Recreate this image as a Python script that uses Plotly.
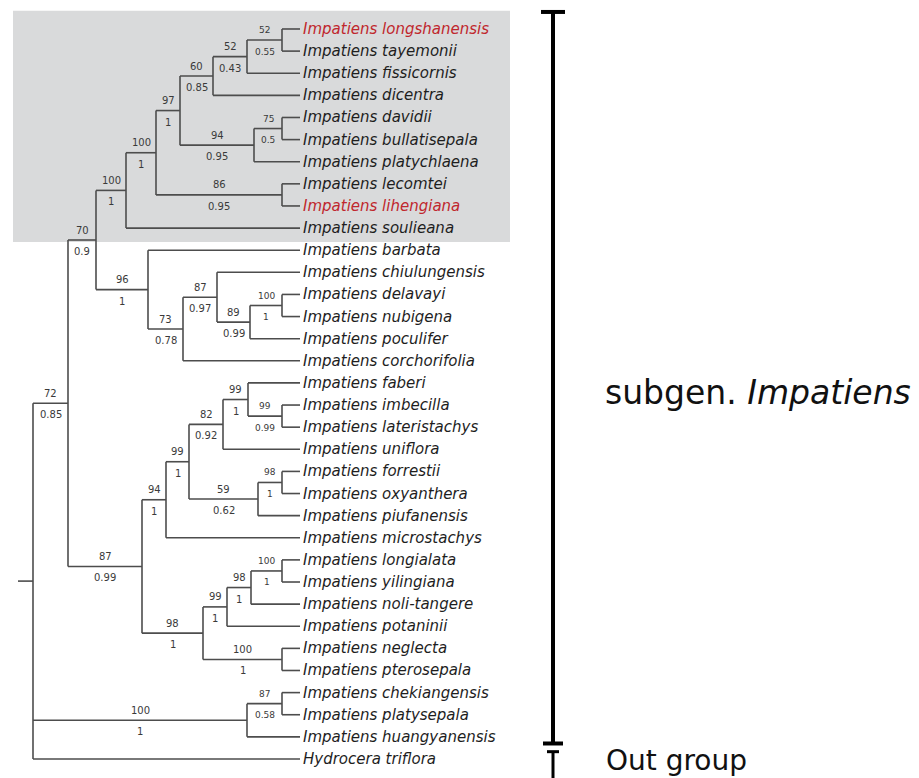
import plotly.graph_objects as go

# ---------------- data ----------------
tips = [
    "Impatiens longshanensis", "Impatiens tayemonii", "Impatiens fissicornis",
    "Impatiens dicentra", "Impatiens davidii", "Impatiens bullatisepala",
    "Impatiens platychlaena", "Impatiens lecomtei", "Impatiens lihengiana",
    "Impatiens soulieana", "Impatiens barbata", "Impatiens chiulungensis",
    "Impatiens delavayi", "Impatiens nubigena", "Impatiens poculifer",
    "Impatiens corchorifolia", "Impatiens faberi", "Impatiens imbecilla",
    "Impatiens lateristachys", "Impatiens uniflora", "Impatiens forrestii",
    "Impatiens oxyanthera", "Impatiens piufanensis", "Impatiens microstachys",
    "Impatiens longialata", "Impatiens yilingiana", "Impatiens noli-tangere",
    "Impatiens potaninii", "Impatiens neglecta", "Impatiens pterosepala",
    "Impatiens chekiangensis", "Impatiens platysepala", "Impatiens huangyanensis",
    "Hydrocera triflora",
]
red_tips = ["Impatiens longshanensis", "Impatiens lihengiana"]
highlight_tips = ["Impatiens longshanensis", "Impatiens soulieana"]

# internal nodes: name, children, depth (horizontal position), bootstrap, posterior
node_names = ["lt", "ltf", "ltfd", "db", "dbp", "A", "ll", "B", "C",
              "I", "H", "G", "F", "E", "D",
              "il", "fil", "L", "O", "N", "M", "P",
              "U", "T", "R", "S", "Q", "K", "J",
              "W", "V", "root"]
node_children = [
    ["Impatiens longshanensis", "Impatiens tayemonii"],
    ["lt", "Impatiens fissicornis"],
    ["ltf", "Impatiens dicentra"],
    ["Impatiens davidii", "Impatiens bullatisepala"],
    ["db", "Impatiens platychlaena"],
    ["ltfd", "dbp"],
    ["Impatiens lecomtei", "Impatiens lihengiana"],
    ["A", "ll"],
    ["B", "Impatiens soulieana"],
    ["Impatiens delavayi", "Impatiens nubigena"],
    ["I", "Impatiens poculifer"],
    ["Impatiens chiulungensis", "H"],
    ["G", "Impatiens corchorifolia"],
    ["Impatiens barbata", "F"],
    ["C", "E"],
    ["Impatiens imbecilla", "Impatiens lateristachys"],
    ["Impatiens faberi", "il"],
    ["fil", "Impatiens uniflora"],
    ["Impatiens forrestii", "Impatiens oxyanthera"],
    ["O", "Impatiens piufanensis"],
    ["L", "N"],
    ["M", "Impatiens microstachys"],
    ["Impatiens longialata", "Impatiens yilingiana"],
    ["U", "Impatiens noli-tangere"],
    ["T", "Impatiens potaninii"],
    ["Impatiens neglecta", "Impatiens pterosepala"],
    ["R", "S"],
    ["P", "Q"],
    ["D", "K"],
    ["Impatiens chekiangensis", "Impatiens platysepala"],
    ["W", "Impatiens huangyanensis"],
    ["J", "V", "Hydrocera triflora"],
]
node_depth = [282, 247, 213, 282, 254, 180, 282, 156, 126,
              282, 250, 217, 183, 148, 96,
              282, 248, 223, 282, 258, 189, 166,
              282, 251, 227, 282, 203, 142, 68,
              282, 247, 33]
node_bootstrap = ["52", "52", "60", "75", "94", "97", "86", "100", "100",
                  "100", "89", "87", "73", "96", "70",
                  "99", "99", "82", "98", "59", "99", "94",
                  "100", "98", "99", "100", "98", "87", "72",
                  "87", "100", ""]
node_posterior = ["0.55", "0.43", "0.85", "0.5", "0.95", "1", "0.95", "1", "1",
                  "1", "0.99", "0.97", "0.78", "1", "0.9",
                  "0.99", "1", "0.92", "1", "0.62", "1", "1",
                  "1", "1", "1", "1", "1", "0.99", "0.85",
                  "0.58", "1", ""]
tip_depth = 300
root_stem_start = 18

groups = ["subgen. <i>Impatiens</i>", "Out group"]
group_first_tip = ["Impatiens longshanensis", "Hydrocera triflora"]
group_last_tip = ["Impatiens huangyanensis", "Hydrocera triflora"]

# ---------------- layout of tree ----------------
depth = {t: tip_depth for t in tips}
ypos = {t: i for i, t in enumerate(tips)}
children = {}
for n, ch, d in zip(node_names, node_children, node_depth):
    children[n] = ch
    depth[n] = d
parent = {}
for n, ch in children.items():
    for c in ch:
        parent[c] = n


def get_y(n):
    if n in ypos:
        return ypos[n]
    ys = [get_y(c) for c in children[n]]
    ypos[n] = (ys[0] + ys[-1]) / 2
    return ypos[n]


for n in node_names:
    get_y(n)

xs, ys = [], []
for n in node_names:
    ch = children[n]
    xs += [depth[n], depth[n], None]
    ys += [ypos[ch[0]], ypos[ch[-1]], None]
    for c in ch:
        xs += [depth[n], depth[c], None]
        ys += [ypos[c], ypos[c], None]
xs += [root_stem_start, depth["root"], None]
ys += [ypos["root"], ypos["root"], None]

LINE = "#4d4d4d"
fig = go.Figure()
fig.add_trace(go.Scatter(x=xs, y=ys, mode="lines",
                         line=dict(color=LINE, width=1.6),
                         hoverinfo="skip", showlegend=False))

ann = []
FONT = "DejaVu Sans"
for t in tips:
    ann.append(dict(x=tip_depth + 1, y=ypos[t], text="<i>%s</i>" % t,
                    xanchor="left", yanchor="middle", showarrow=False,
                    font=dict(family=FONT, size=15,
                              color="#c0272d" if t in red_tips else "#1e1e1e")))

for n, bs, pp in zip(node_names, node_bootstrap, node_posterior):
    if n not in parent:
        continue
    xm = (depth[parent[n]] + depth[n]) / 2
    pair = all(c in tips for c in children[n]) and (depth[n] - depth[parent[n]]) < 40
    fs = 9 if pair else 10
    ann.append(dict(x=xm, y=ypos[n], text=bs, showarrow=False, yshift=10,
                    font=dict(family=FONT, size=fs, color="#3a3a3a")))
    ann.append(dict(x=xm, y=ypos[n], text=pp, showarrow=False, yshift=-11.5,
                    font=dict(family=FONT, size=fs, color="#3a3a3a")))

# highlight box
h0 = tips.index(highlight_tips[0])
h1 = tips.index(highlight_tips[1])
shapes = [dict(type="rect", xref="x", yref="y", x0=13, x1=510,
               y0=h0 - 0.82, y1=h1 + 0.63, fillcolor="#d9dadb",
               line=dict(width=0), layer="below")]

# group brackets
BX = 553
g0a, g0b = tips.index(group_first_tip[0]), tips.index(group_last_tip[0])
g1a, g1b = tips.index(group_first_tip[1]), tips.index(group_last_tip[1])
shapes += [
    dict(type="line", x0=BX, x1=BX, y0=g0a - 0.86, y1=g0b + 0.32,
         line=dict(color="black", width=4)),
    dict(type="line", x0=BX - 12, x1=BX + 12, y0=g0a - 0.77, y1=g0a - 0.77,
         line=dict(color="black", width=4)),
    dict(type="line", x0=BX - 10, x1=BX + 10, y0=g0b + 0.3, y1=g0b + 0.3,
         line=dict(color="black", width=4)),
    dict(type="line", x0=BX, x1=BX, y0=g1a - 0.36, y1=g1b + 1.6,
         line=dict(color="black", width=3)),
    dict(type="line", x0=BX - 6, x1=BX + 6, y0=g1a - 0.33, y1=g1a - 0.33,
         line=dict(color="black", width=3)),
]
ann.append(dict(x=BX + 50, y=(g0a + g0b) / 2 + 0.45, text=groups[0], xanchor="left",
                showarrow=False, font=dict(family=FONT, size=33, color="#111111")))
ann.append(dict(x=BX + 51, y=g1a + 0.05, text=groups[1], xanchor="left",
                showarrow=False, font=dict(family=FONT, size=28, color="#111111")))

# the page body adds an 8px margin; size the figure so data units map to window pixels
fig.update_layout(
    width=911, height=770, margin=dict(l=0, r=0, t=0, b=0),
    paper_bgcolor="white", plot_bgcolor="white",
    xaxis=dict(range=[8, 919], visible=False, fixedrange=True),
    yaxis=dict(range=[33.86, -0.949], visible=False, fixedrange=True),
    annotations=ann, shapes=shapes, showlegend=False,
)
fig.write_html("out.html")
